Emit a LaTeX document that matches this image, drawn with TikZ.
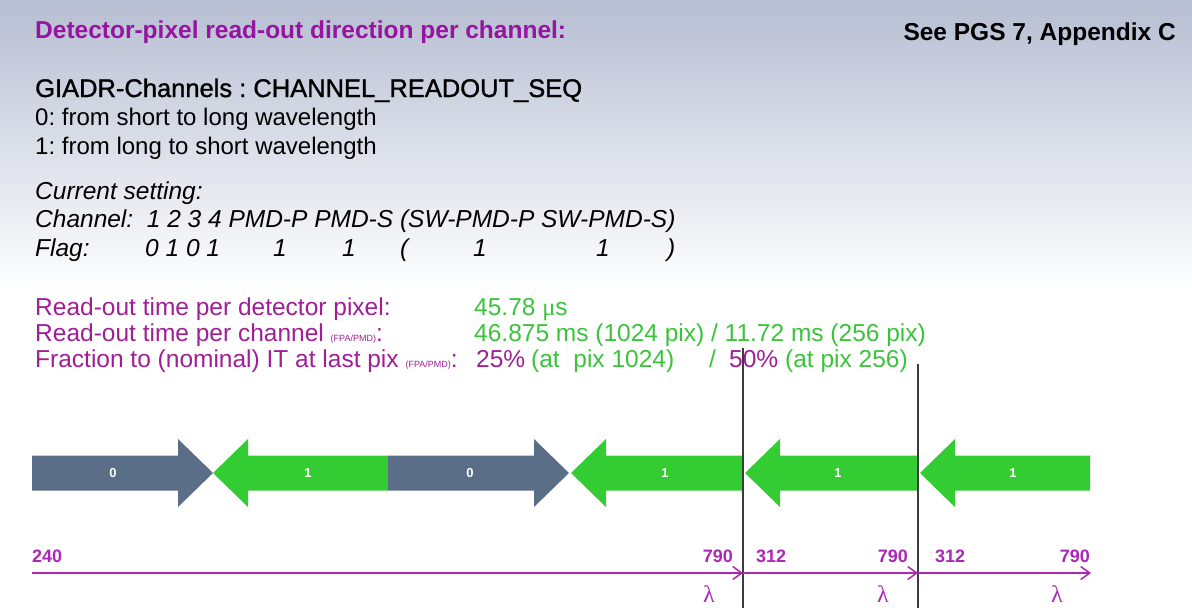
\documentclass[tikz,border=0pt]{standalone}
\usepackage{fontspec}
\setmainfont{Liberation Sans}
\newfontfamily\serifgr{Liberation Serif}
\newfontfamily\semibold[FakeBold=1.2]{Liberation Sans}
\usetikzlibrary{arrows.meta}
\definecolor{titlepurple}{RGB}{150,20,160}
\definecolor{txtpurple}{RGB}{160,30,150}
\definecolor{txtgreen}{RGB}{60,195,60}
\definecolor{arrgray}{RGB}{90,110,135}
\definecolor{arrgreen}{RGB}{51,204,51}
\definecolor{axpurple}{RGB}{170,40,180}
\definecolor{bgtop}{RGB}{182,190,210}
\definecolor{bgmid}{RGB}{222,226,235}
\definecolor{vline}{RGB}{60,60,60}
\frenchspacing
\begin{document}
\begin{tikzpicture}[x=1pt,y=-1pt,
  txt/.style={anchor=base west, inner sep=0pt, font=\fontsize{24}{28}\selectfont},
  rtxt/.style={anchor=base west, inner sep=0pt, font=\fontsize{24.5}{28}\selectfont},
  ittxt/.style={anchor=base west, inner sep=0pt, font=\fontsize{24.5}{28}\selectfont\itshape},
  grayarr/.style={fill=arrgray},
  greenarr/.style={fill=arrgreen},
  arrlabel/.style={inner sep=0pt, text=white, font=\fontsize{13}{15}\selectfont\bfseries},
  axnum/.style={inner sep=0pt, anchor=base, text=axpurple, font=\fontsize{18}{20}\selectfont\bfseries},
  lam/.style={inner sep=0pt, text=axpurple, font=\fontsize{24}{26}\selectfont\serifgr},
  axis/.style={draw=axpurple, line width=1.5pt, -{Straight Barb[length=9pt,width=13pt,line width=1.5pt]}},
  sep/.style={draw=vline, line width=1.3pt}
]
\useasboundingbox (0,0) rectangle (1192,608);
\fill[white] (0,0) rectangle (1192,608);
\shade[top color=bgtop, middle color=bgmid, bottom color=white] (0,0) rectangle (1192,290);

% header
\node[txt, font=\fontsize{24.5}{28}\selectfont\bfseries, text=titlepurple] (title) at (35,38) {Detector-pixel read-out direction per channel:};
\node[txt, font=\fontsize{24.5}{28}\selectfont\bfseries, anchor=base east] (see) at (1176,40) {See PGS 7, Appendix C};

\node[txt, font=\fontsize{25.5}{28}\selectfont\semibold] (giadr) at (35,97) {GIADR-Channels : CHANNEL\_READOUT\_SEQ};
\node[txt] (zero) at (35,125) {0: from short to long wavelength};
\node[txt] (one) at (35,154) {1: from long to short wavelength};

% current setting
\node[ittxt] (cur) at (35,199) {Current setting:};
\node[ittxt] (chan) at (35,227) {Channel:\ \ 1 2 3 4 PMD-P PMD-S (SW-PMD-P SW-PMD-S)};
\node[ittxt] (flag) at (35,256) {Flag:};
\node[ittxt] (f1) at (145,256) {0 1 0 1};
\node[ittxt] (f2) at (273,256) {1};
\node[ittxt] (f3) at (342,256) {1};
\node[ittxt] (f4) at (400,256) {(};
\node[ittxt] (f5) at (473,256) {1};
\node[ittxt] (f6) at (596,256) {1};
\node[ittxt] (f7) at (667,256) {)};

% read-out times
\node[rtxt, text=txtpurple] (r1) at (35,315) {Read-out time per detector pixel:};
\node[rtxt, text=txtgreen] (v1) at (474,315) {45.78 {\serifgr μ}s};
\node[rtxt, text=txtpurple] (r2) at (35,341) {Read-out time per channel {\fontsize{9}{10}\selectfont (FPA/PMD)}:};
\node[rtxt, text=txtgreen] (v2) at (474,341) {46.875 ms (1024 pix) / 11.72 ms (256 pix)};
\node[rtxt, text=txtpurple] (r3) at (35,367) {Fraction to (nominal) IT at last pix {\fontsize{9}{10}\selectfont (FPA/PMD)}:};
\node[rtxt, text=txtpurple] (v3a) at (476,367) {25\%};
\node[rtxt, text=txtgreen] (v3b) at (531,367) {(at\ \ pix 1024)};
\node[rtxt, text=txtgreen] (v3c) at (709,367) {/};
\node[rtxt, text=txtpurple] (v3d) at (729,367) {50\%};
\node[rtxt, text=txtgreen] (v3e) at (785,367) {(at pix 256)};

% arrows
\fill[grayarr] (32,455.5) -- (178,455.5) -- (178,439) -- (213,473) -- (178,507) -- (178,490.5) -- (32,490.5) -- cycle;
\fill[greenarr] (388,455.5) -- (248,455.5) -- (248,439) -- (213,473) -- (248,507) -- (248,490.5) -- (388,490.5) -- cycle;
\fill[grayarr] (388,455.5) -- (534,455.5) -- (534,439) -- (569,473) -- (534,507) -- (534,490.5) -- (388,490.5) -- cycle;
\fill[greenarr] (743,455.5) -- (606,455.5) -- (606,439) -- (571,473) -- (606,507) -- (606,490.5) -- (743,490.5) -- cycle;
\fill[greenarr] (918,455.5) -- (780,455.5) -- (780,439) -- (745,473) -- (780,507) -- (780,490.5) -- (918,490.5) -- cycle;
\fill[greenarr] (1090,455.5) -- (955,455.5) -- (955,439) -- (920,473) -- (955,507) -- (955,490.5) -- (1090,490.5) -- cycle;

\node[arrlabel] (l1) at (113,473) {0};
\node[arrlabel] (l2) at (308,473) {1};
\node[arrlabel] (l3) at (470,473) {0};
\node[arrlabel] (l4) at (665,473) {1};
\node[arrlabel] (l5) at (838,473) {1};
\node[arrlabel] (l6) at (1013,473) {1};

% separators
\coordinate (s1t) at (743,348);
\coordinate (s1b) at (743,608);
\coordinate (s2t) at (918,364);
\coordinate (s2b) at (918,608);
\draw[sep] (s1t) -- (s1b);
\draw[sep] (s2t) -- (s2b);

% wavelength axes
\coordinate (a0) at (32,573);
\coordinate (a1) at (743,573);
\coordinate (a2) at (918,573);
\coordinate (a3) at (1091,573);
\draw[axis] (a0) -- (a1);
\draw[axis] (a1) -- (a2);
\draw[axis] (a2) -- (a3);

\node[axnum, anchor=base west] (n0) at (32,562) {240};
\node[axnum, anchor=base east] (n1) at (733,562) {790};
\node[axnum, anchor=base west] (n2) at (756,562) {312};
\node[axnum, anchor=base east] (n3) at (908,562) {790};
\node[axnum, anchor=base west] (n4) at (935,562) {312};
\node[axnum, anchor=base east] (n5) at (1090,562) {790};

\node[lam] (lam1) at (709,594) {λ};
\node[lam] (lam2) at (883,594) {λ};
\node[lam] (lam3) at (1057,594) {λ};
\end{tikzpicture}
\end{document}
